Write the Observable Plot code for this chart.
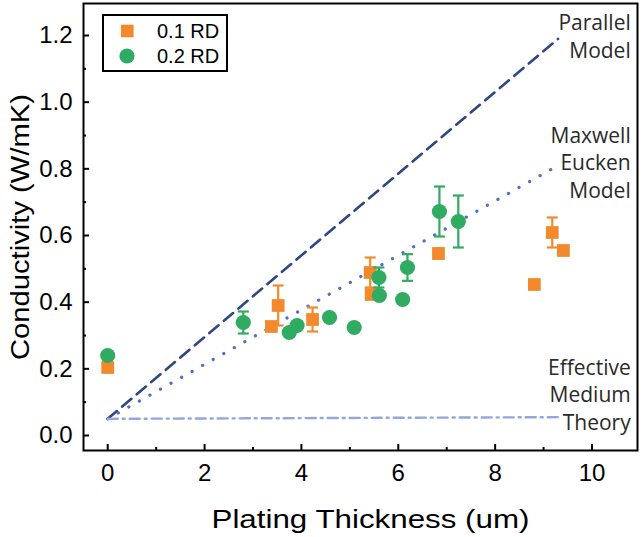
<!DOCTYPE html>
<html><head><meta charset="utf-8">
<script src="https://cdn.jsdelivr.net/npm/d3@7"></script>
<script src="https://cdn.jsdelivr.net/npm/@observablehq/plot@0.6"></script>
<style>body{margin:0;background:#fff}</style>
</head><body><div id="chart"></div>
<script>
// ---- data ----
const seriesNames = ["0.1 RD", "0.2 RD"];
const orangeX   = [0, 3.38, 3.52, 4.23, 5.42, 5.44, 6.83, 8.81, 9.18, 9.41];
const orangeY   = [0.204, 0.327, 0.39, 0.348, 0.489, 0.423, 0.546, 0.453, 0.609, 0.555];
const orangeErr = [0, 0, 0.06, 0.036, 0.045, 0, 0.015, 0, 0.045, 0];
const greenX    = [0, 2.8, 3.75, 3.91, 4.58, 5.09, 5.61, 5.6, 6.09, 6.19, 6.85, 7.24];
const greenY    = [0.24, 0.339, 0.309, 0.33, 0.354, 0.324, 0.42, 0.474, 0.408, 0.504, 0.672, 0.642];
const greenErr  = [0, 0.033, 0, 0, 0, 0, 0, 0.03, 0, 0.04, 0.075, 0.078];
const modelX    = [0, 9.3];
const parallelY = [0.05, 1.19];
const maxwellY  = [0.05, 0.81];
const emtY      = [0.05, 0.055];
const xMajor = [0, 2, 4, 6, 8, 10];
const xMinor = [1, 3, 5, 7, 9];
const yMajor = [0, 0.2, 0.4, 0.6, 0.8, 1.0, 1.2];
const yMinor = [0.1, 0.3, 0.5, 0.7, 0.9, 1.1];
const annotations = [
  {text: "Parallel\nModel", x: 10.8, y: 1.20},
  {text: "Maxwell\nEucken\nModel", x: 10.8, y: 0.822},
  {text: "Effective\nMedium\nTheory", x: 10.8, y: 0.126}
];

const ORANGE = "#f28a2c", GREEN = "#2fab62";
const orange = orangeX.map((x, i) => ({x, y: orangeY[i], e: orangeErr[i]}));
const green = greenX.map((x, i) => ({x, y: greenY[i], e: greenErr[i]}));
const line = (ys) => modelX.map((x, i) => ({x, y: ys[i]}));
const capSymbol = {draw(ctx, size) { const w = Math.sqrt(size / Math.PI); ctx.moveTo(-w, 0); ctx.lineTo(w, 0); }};

function errMarks(data, color) {
  const d = data.filter(p => p.e > 0);
  const caps = d.flatMap(p => [{x: p.x, y: p.y - p.e}, {x: p.x, y: p.y + p.e}]);
  return [
    Plot.ruleX(d, {x: "x", y1: p => p.y - p.e, y2: p => p.y + p.e, stroke: color, strokeWidth: 2.2}),
    Plot.dot(caps, {x: "x", y: "y", symbol: capSymbol, r: 5.5, stroke: color, strokeWidth: 2.2, fill: "none"})
  ];
}

const chart = Plot.plot({
  width: 642, height: 537,
  marginLeft: 83, marginRight: 5, marginTop: 3, marginBottom: 87,
  x: {domain: [-0.5, 10.94]},
  y: {domain: [-0.045, 1.296]},
  style: {fontFamily: "'Liberation Sans', Arial, sans-serif", background: "white", color: "black"},
  marks: [
    Plot.axisX({ticks: xMajor, tickSize: 0, tickPadding: 13, fontSize: 24, label: null}),
    Plot.axisX({ticks: xMajor, tickSize: -6, tickFormat: () => "", label: null, strokeWidth: 2}),
    Plot.axisX({ticks: xMinor, tickSize: -3, tickFormat: () => "", label: null, strokeWidth: 2}),
    Plot.axisY({ticks: yMajor, tickSize: 0, tickPadding: 11, fontSize: 24, tickFormat: d3.format(".1f"), label: null}),
    Plot.axisY({ticks: yMajor, tickSize: -6, tickFormat: () => "", label: null, strokeWidth: 2}),
    Plot.axisY({ticks: yMinor, tickSize: -3, tickFormat: () => "", label: null, strokeWidth: 2}),
    Plot.line(line(parallelY), {x: "x", y: "y", stroke: "#2d4785", strokeWidth: 2.6, strokeDasharray: "12,7"}),
    Plot.line(line(maxwellY), {x: "x", y: "y", stroke: "#4e6fc6", strokeWidth: 3.2, strokeDasharray: "0.1,12", strokeLinecap: "round"}),
    Plot.line(line(emtY), {x: "x", y: "y", stroke: "#94a6dc", strokeWidth: 2.4, strokeDasharray: "10,5,2,5"}),
    ...errMarks(orange, ORANGE),
    Plot.dot(orange, {x: "x", y: "y", symbol: "square", r: 7.2, fill: ORANGE}),
    ...errMarks(green, GREEN),
    Plot.dot(green, {x: "x", y: "y", symbol: "circle", r: 7.6, fill: GREEN}),
    Plot.text(annotations, {x: "x", y: "y", text: "text", textAnchor: "end", lineAnchor: "middle", lineHeight: 1.33, fontSize: 21, fontFamily: "'Open Sans', sans-serif", fill: "#2a2a2a"}),
    Plot.text(["Plating Thickness (um)"], {frameAnchor: "bottom", textAnchor: "middle", lineAnchor: "middle", dx: 10, dy: 69, fontSize: 26, className: "xtitle"}),
    Plot.text(["Conductivity (W/mK)"], {frameAnchor: "left", textAnchor: "middle", lineAnchor: "middle", rotate: -90, dx: -63, fontSize: 26, className: "ytitle"}),
    Plot.frame({stroke: "black", strokeWidth: 2})
  ]
});

// widen axis titles to match the reference proportions
const svg = d3.select(chart);
svg.selectAll(".xtitle text").attr("textLength", 318).attr("lengthAdjust", "spacingAndGlyphs");
svg.selectAll(".ytitle text").attr("textLength", 266).attr("lengthAdjust", "spacingAndGlyphs");

// legend inside plot area
const lg = svg.append("g").attr("font-family", "'Liberation Sans', Arial, sans-serif").attr("text-anchor", "start");
lg.append("rect").attr("x", 103).attr("y", 15).attr("width", 124).attr("height", 56)
  .attr("fill", "white").attr("stroke", "black").attr("stroke-width", 2);
const colors = [ORANGE, GREEN];
seriesNames.forEach((name, i) => {
  const cy = 31 + i * 25;
  if (i === 0) lg.append("rect").attr("x", 121).attr("y", cy - 6.3).attr("width", 12.6).attr("height", 12.6).attr("fill", colors[i]);
  else lg.append("circle").attr("cx", 127).attr("cy", cy).attr("r", 7.6).attr("fill", colors[i]);
  lg.append("text").attr("x", 157).attr("y", cy).attr("dy", "0.35em").attr("font-size", 20).attr("fill", "black").text(name);
});

document.getElementById("chart").appendChild(chart);
</script>
</body></html>
